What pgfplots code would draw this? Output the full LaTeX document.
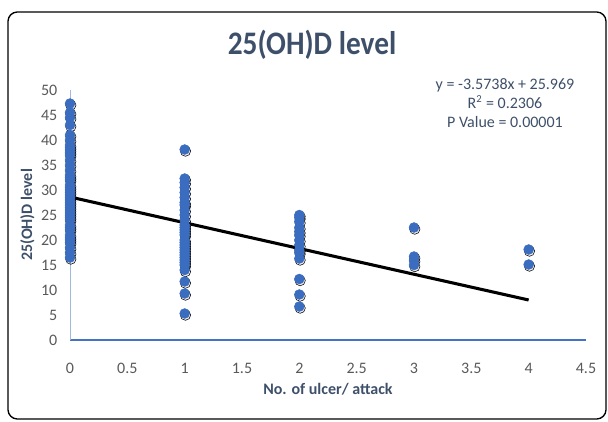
\documentclass[border=0pt]{standalone}
\usepackage{fontspec}
\setmainfont{Carlito}
\usepackage{pgfplots}
\pgfplotsset{compat=1.18}
\usepackage{pgfplotstable}
\definecolor{dotblue}{RGB}{58,108,192}
\definecolor{axblue}{RGB}{68,114,196}
\definecolor{lightax}{RGB}{160,185,225}
\definecolor{titlec}{RGB}{62,80,105}
\definecolor{tickc}{RGB}{89,89,89}
\pgfplotstableread{
x y
0 16.5
0 17.5
0 18.5
0 19.5
0 20
0 20.5
0 21
0 22
0 22.5
0 23
0 24
0 24.5
0 25
0 25.5
0 26
0 26.5
0 27
0 27.5
0 28
0 28.5
0 29
0 29.5
0 30
0 30.5
0 31
0 32
0 32.5
0 33
0 34
0 35
0 36
0 37
0 37.5
0 38
0 38.5
0 39
0 40
0 41
0 43
0 44.5
0 45.5
0 47.3
1 5.3
1 9.3
1 11.7
1 14
1 15
1 15.5
1 16
1 16.5
1 17
1 17.5
1 18
1 18.5
1 19
1 19.5
1 20
1 21
1 21.5
1 22
1 22.5
1 23
1 24
1 25
1 26
1 27
1 27.5
1 28.5
1 29.5
1 30.5
1 31.5
1 32.3
1 38.1
2 6.7
2 9.1
2 12.2
2 16.3
2 17.5
2 18
2 19
2 20
2 21
2 21.7
2 22.5
2 23.7
2 24.5
2 25
3 15.0
3 16.0
3 16.7
3 22.5
4 15.1
4 18.1
}\vitd
\begin{document}
\begin{tikzpicture}
\begin{scope}[x=0.75pt,y=0.75pt]
\useasboundingbox (0,0) rectangle (608,422);
\draw[line width=1pt, rounded corners=7pt] (8,422-12) rectangle (606,422-419);
\node[font=\bfseries\fontsize{22}{26}\selectfont, text=titlec] at (312,422-45) {\scalebox{1}[1.12]{25(OH)D level}};
\node[font=\fontsize{12}{14.5}\selectfont, text=titlec, align=center] at (505,422-103) {y = -3.5738x + 25.969\\ R\textsuperscript{2} = 0.2306\\ P Value = 0.00001};
\end{scope}
\begin{axis}[
  at={(52.5pt,61.5pt)}, anchor=south west,
  scale only axis, width=387pt, height=187.5pt,
  xmin=0, xmax=4.5, ymin=0, ymax=50,
  xtick={0,0.5,...,4.5}, ytick={0,5,...,50},
  xticklabels={0,0.5,1,1.5,2,2.5,3,3.5,4,4.5},
  axis x line=bottom, axis y line=left,
  x axis line style={-, line width=2.2pt, axblue},
  y axis line style={-, line width=0.6pt, lightax},
  major tick length=0pt,
  ticklabel style={font=\fontsize{12}{14}\selectfont, text=tickc},
  /pgf/number format/assume math mode=true,
  xticklabel style={yshift=-14pt},
  yticklabel style={xshift=-6pt},
  xlabel={No. of ulcer/ attack},
  ylabel={25(OH)D level},
  label style={font=\bfseries\fontsize{12}{14}\selectfont, text=titlec},
  xlabel style={yshift=0pt},
  ylabel style={yshift=-2pt},
  clip=false,
]
\addplot[only marks, mark=*, mark size=3.9pt, mark options={draw=none, fill=black, fill opacity=0.08, xshift=0.6pt, yshift=-1.2pt}] table[x=x,y=y] {\vitd};
\addplot[only marks, mark=*, mark size=3.7pt, mark options={draw=dotblue, fill=dotblue}] table[x=x,y=y] {\vitd};
\addplot[black, line width=2.3pt] coordinates {(0,28.6)(4,8.0)};
\end{axis}
\end{tikzpicture}
\end{document}
